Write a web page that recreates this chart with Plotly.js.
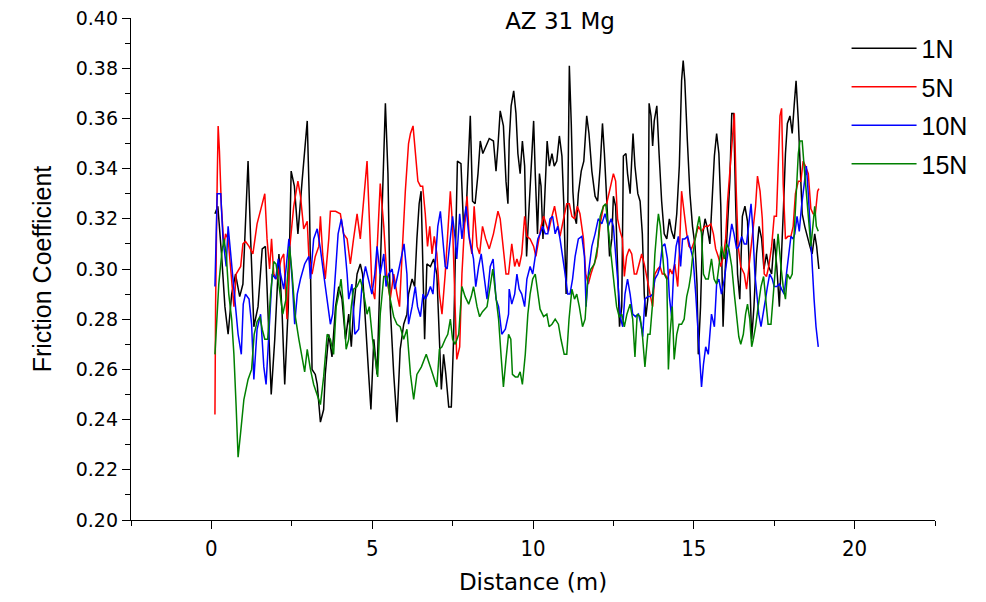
<!DOCTYPE html>
<html>
<head>
<meta charset="utf-8">
<script src="https://cdn.plot.ly/plotly-3.0.1.min.js"></script>
<style>html,body{margin:0;padding:0;background:#fff;}#chart{width:986px;height:602px;}</style>
</head>
<body>
<div id="chart"></div>
<script>
// ---- Data ----
const seriesNames = ["1N", "5N", "10N", "15N"];
const seriesColors = ["#000000", "#ff0000", "#0000ff", "#008000"];
const xTickVals = [0, 5, 10, 15, 20];
const yTickVals = [0.20, 0.22, 0.24, 0.26, 0.28, 0.30, 0.32, 0.34, 0.36, 0.38, 0.40];

const x1N = [0.11,0.20,0.32,0.42,0.52,0.63,0.75,0.88,0.98,1.06,1.14,1.22,1.32,1.45,1.58,1.68,1.75,1.86,1.97,2.10,2.20,2.28,2.39,2.48,2.58,2.69,2.82,2.98,
3.05,3.13,3.23,3.29,3.39,3.49,3.54,3.65,3.75,3.86,3.96,4.06,4.17,4.27,4.35,4.42,4.53,4.63,4.70,4.79,4.89,4.96,5.05,5.15,5.25,5.36,5.41,5.49,5.56,5.67,5.77,5.87,5.98,6.08,
6.13,6.24,6.32,6.39,6.46,6.52,6.57,6.63,6.70,6.81,6.91,7.01,7.09,7.15,7.22,7.29,7.38,7.46,7.53,7.60,7.65,7.76,7.84,7.92,7.98,8.05,8.12,8.20,8.29,8.36,8.44,8.53,8.64,8.77,8.85,8.91,8.98,9.08,9.16,9.22,
9.26,9.32,9.40,9.47,9.53,9.60,9.67,9.74,9.80,9.88,9.96,10.02,10.07,10.14,10.20,10.25,10.31,10.38,10.44,10.51,10.59,10.66,10.74,10.82,10.90,10.96,11.03,11.07,11.13,11.19,11.24,11.29,11.35,11.41,11.50,11.58,11.67,11.74,11.83,11.93,12.01,12.09,12.16,12.22,12.28,12.34,
12.38,12.45,12.50,12.57,12.63,12.69,12.76,12.81,12.89,12.94,13.02,13.07,13.11,13.17,13.26,13.33,13.40,13.46,13.51,13.57,13.61,13.67,13.72,13.77,13.85,13.92,14.00,14.08,14.16,14.24,14.31,14.39,14.47,14.55,14.62,14.67,14.72,14.80,14.88,14.96,15.04,15.10,15.14,15.21,15.27,15.35,15.41,
15.50,15.57,15.64,15.71,15.78,15.84,15.91,15.97,16.05,16.12,16.18,16.24,16.30,16.36,16.43,16.51,16.59,16.67,16.74,16.80,16.87,16.95,17.03,17.11,17.18,17.26,17.33,17.42,17.50,17.58,17.66,17.73,17.79,17.85,17.91,17.99,18.06,18.12,18.18,18.25,18.31,18.37,18.45,18.54,18.61,18.68,18.76,18.82,18.89];
const y1N = [0.322,0.325,0.305,0.285,0.274,0.290,0.298,0.289,0.294,0.317,0.343,0.312,0.277,0.285,0.308,0.309,0.285,0.250,0.272,0.306,0.282,0.254,0.285,0.339,0.333,0.314,0.335,0.359,
0.325,0.260,0.258,0.254,0.239,0.244,0.258,0.274,0.265,0.285,0.293,0.288,0.272,0.282,0.269,0.284,0.298,0.302,0.298,0.277,0.258,0.244,0.272,0.258,0.298,0.338,0.366,0.338,0.285,0.258,0.239,0.268,0.278,0.282,
0.290,0.296,0.293,0.312,0.326,0.331,0.298,0.272,0.302,0.301,0.304,0.298,0.272,0.252,0.266,0.258,0.245,0.245,0.272,0.312,0.343,0.342,0.317,0.322,0.338,0.361,0.327,0.326,0.338,0.351,0.346,0.349,0.352,0.351,0.339,0.349,0.363,0.357,0.335,0.326,
0.351,0.365,0.371,0.362,0.346,0.338,0.351,0.341,0.305,0.325,0.345,0.359,0.338,0.314,0.338,0.333,0.312,0.330,0.351,0.341,0.346,0.341,0.343,0.353,0.345,0.325,0.290,0.312,0.381,0.358,0.331,0.321,0.318,0.330,0.339,0.343,0.361,0.354,0.339,0.329,0.327,0.341,0.358,0.346,0.330,0.312,
0.305,0.312,0.329,0.325,0.298,0.277,0.285,0.345,0.346,0.338,0.330,0.347,0.354,0.341,0.330,0.327,0.314,0.290,0.281,0.288,0.366,0.361,0.349,0.359,0.365,0.346,0.327,0.314,0.312,0.320,0.315,0.312,0.322,0.341,0.375,0.383,0.375,0.351,0.330,0.317,0.309,0.294,0.266,0.285,0.313,0.320,0.317,
0.310,0.325,0.345,0.354,0.346,0.325,0.277,0.298,0.317,0.335,0.362,0.362,0.327,0.298,0.288,0.321,0.325,0.319,0.296,0.272,0.285,0.306,0.317,0.312,0.300,0.306,0.301,0.298,0.312,0.301,0.285,0.304,0.325,0.346,0.358,0.361,0.354,0.365,0.375,0.359,0.338,0.322,0.317,0.312,0.309,0.306,0.314,0.309,0.300];

const x5N = [0.11,0.13,0.18,0.21,0.25,0.31,0.39,0.44,0.52,0.62,0.70,0.77,0.91,0.98,1.06,1.17,1.29,1.42,1.56,1.66,1.73,1.81,1.87,1.94,2.04,2.17,2.25,2.35,2.44,2.56,2.69,2.77,2.87,2.98,
3.03,3.13,3.23,3.34,3.39,3.46,3.54,3.65,3.70,3.86,4.01,4.11,4.22,4.32,4.42,4.53,4.63,4.74,4.84,4.92,4.99,5.08,5.18,5.25,5.36,5.46,5.56,5.67,5.77,5.85,5.93,6.03,6.13,
6.19,6.27,6.34,6.42,6.50,6.57,6.65,6.72,6.79,6.86,6.93,7.01,7.09,7.17,7.27,7.35,7.43,7.50,7.58,7.63,7.72,7.79,7.87,7.95,8.02,8.10,8.17,8.26,8.34,8.43,8.53,8.64,8.77,8.91,8.98,9.08,9.16,9.24,
9.34,9.43,9.50,9.57,9.65,9.74,9.81,9.91,10.02,10.09,10.17,10.25,10.33,10.40,10.48,10.59,10.67,10.74,10.84,10.95,11.05,11.13,11.21,11.29,11.38,11.46,11.57,11.64,11.72,11.80,11.91,11.98,12.09,12.19,12.29,
12.43,12.50,12.57,12.63,12.71,12.78,12.84,12.91,12.99,13.07,13.15,13.22,13.30,13.38,13.46,13.54,13.64,13.72,13.79,13.88,13.95,14.02,14.10,14.19,14.26,14.33,14.41,14.50,14.55,14.62,14.70,14.78,14.85,14.93,15.04,15.14,15.24,15.35,15.45,
15.53,15.61,15.68,15.76,15.84,15.92,15.99,16.05,16.12,16.20,16.26,16.32,16.38,16.46,16.57,16.64,16.69,16.78,16.85,16.92,16.98,17.06,17.13,17.19,17.26,17.33,17.42,17.50,17.57,17.62,17.68,17.73,17.78,17.85,17.93,18.02,18.09,18.16,18.25,18.33,18.40,18.47,18.56,18.64,18.71,18.78,18.85,18.89];
const y5N = [0.242,0.285,0.335,0.357,0.347,0.325,0.309,0.314,0.312,0.298,0.285,0.298,0.301,0.310,0.311,0.309,0.306,0.318,0.325,0.330,0.312,0.300,0.312,0.298,0.296,0.304,0.306,0.280,0.309,0.325,0.335,0.329,0.316,0.319,
0.305,0.298,0.305,0.309,0.321,0.306,0.296,0.312,0.323,0.323,0.322,0.314,0.312,0.302,0.312,0.322,0.312,0.329,0.343,0.317,0.293,0.288,0.312,0.334,0.317,0.296,0.288,0.298,0.290,0.285,0.306,0.331,0.350,
0.354,0.357,0.347,0.335,0.333,0.333,0.322,0.309,0.317,0.306,0.313,0.306,0.290,0.282,0.298,0.317,0.331,0.317,0.278,0.264,0.269,0.298,0.317,0.329,0.312,0.306,0.325,0.309,0.306,0.317,0.312,0.308,0.314,0.323,0.320,0.309,0.298,0.298,
0.310,0.301,0.304,0.301,0.306,0.321,0.313,0.312,0.309,0.305,0.312,0.317,0.321,0.318,0.315,0.321,0.325,0.320,0.313,0.320,0.326,0.326,0.321,0.320,0.325,0.322,0.312,0.298,0.294,0.298,0.302,0.305,0.318,0.325,0.326,
0.335,0.338,0.335,0.320,0.315,0.312,0.297,0.305,0.308,0.306,0.298,0.298,0.302,0.306,0.302,0.296,0.290,0.285,0.298,0.300,0.301,0.298,0.298,0.296,0.300,0.298,0.302,0.293,0.306,0.331,0.322,0.314,0.309,0.308,0.312,0.317,0.315,0.317,0.317,
0.318,0.314,0.308,0.305,0.301,0.305,0.312,0.327,0.338,0.354,0.362,0.331,0.309,0.301,0.298,0.292,0.298,0.309,0.318,0.325,0.337,0.331,0.320,0.298,0.297,0.301,0.309,0.321,0.321,0.338,0.361,0.364,0.334,0.312,0.313,0.313,0.317,0.330,0.335,0.335,0.343,0.341,0.338,0.324,0.322,0.322,0.331,0.332];

const x10N = [0.11,0.18,0.29,0.36,0.46,0.52,0.60,0.68,0.75,0.83,0.93,0.99,1.06,1.17,1.25,1.32,1.42,1.53,1.63,1.70,1.79,1.89,2.00,2.08,2.15,2.25,2.32,2.41,2.51,2.59,2.67,2.77,2.90,3.03,
3.08,3.18,3.29,3.39,3.49,3.60,3.70,3.77,3.86,3.94,4.04,4.11,4.22,4.27,4.37,4.46,4.58,4.68,4.79,4.89,4.99,5.08,5.15,5.25,5.36,5.43,5.51,5.62,5.70,5.80,5.90,5.99,6.08,
6.13,6.24,6.34,6.41,6.50,6.58,6.65,6.73,6.81,6.89,6.96,7.04,7.12,7.19,7.27,7.33,7.43,7.50,7.58,7.63,7.72,7.79,7.86,7.92,8.00,8.08,8.15,8.22,8.31,8.39,8.49,8.57,8.67,8.76,8.85,8.93,9.03,9.14,9.24,
9.26,9.34,9.43,9.50,9.57,9.65,9.74,9.81,9.91,9.99,10.07,10.15,10.22,10.30,10.38,10.46,10.53,10.61,10.69,10.77,10.84,10.93,11.00,11.08,11.15,11.23,11.31,11.41,11.52,11.60,11.65,11.72,11.83,11.93,12.03,12.14,12.24,12.34,
12.43,12.50,12.57,12.65,12.73,12.79,12.86,12.94,13.02,13.10,13.19,13.28,13.36,13.41,13.48,13.57,13.65,13.72,13.79,13.88,13.95,14.02,14.10,14.18,14.24,14.31,14.37,14.45,14.52,14.59,14.65,14.72,14.81,14.88,14.98,15.06,15.12,15.19,15.24,15.30,15.37,15.45,
15.55,15.64,15.71,15.78,15.86,15.95,16.05,16.12,16.18,16.25,16.33,16.40,16.49,16.57,16.64,16.71,16.78,16.83,16.90,16.96,17.02,17.09,17.16,17.23,17.29,17.36,17.44,17.50,17.58,17.66,17.73,17.81,17.88,17.96,18.02,18.09,18.14,18.21,18.28,18.35,18.43,18.50,18.56,18.63,18.68,18.74,18.80,18.87];
const y10N = [0.293,0.330,0.330,0.312,0.301,0.317,0.306,0.296,0.285,0.274,0.266,0.286,0.290,0.288,0.278,0.256,0.276,0.282,0.261,0.254,0.276,0.298,0.296,0.304,0.298,0.292,0.300,0.312,0.296,0.278,0.290,0.296,0.302,0.305,
0.296,0.312,0.316,0.308,0.298,0.288,0.278,0.282,0.298,0.314,0.320,0.314,0.298,0.288,0.294,0.274,0.276,0.293,0.301,0.296,0.290,0.298,0.309,0.298,0.306,0.293,0.298,0.300,0.292,0.298,0.305,0.310,0.298,
0.278,0.285,0.293,0.285,0.281,0.290,0.288,0.290,0.293,0.290,0.301,0.317,0.323,0.312,0.301,0.300,0.312,0.321,0.312,0.304,0.322,0.312,0.320,0.325,0.314,0.309,0.304,0.293,0.301,0.306,0.296,0.288,0.301,0.304,0.288,0.285,0.274,0.276,0.282,
0.292,0.286,0.290,0.298,0.292,0.290,0.285,0.296,0.301,0.298,0.305,0.312,0.314,0.317,0.314,0.314,0.320,0.321,0.314,0.317,0.312,0.305,0.298,0.290,0.290,0.296,0.305,0.312,0.313,0.305,0.285,0.298,0.309,0.314,0.320,0.318,0.322,0.317,
0.320,0.317,0.306,0.290,0.280,0.277,0.290,0.296,0.290,0.282,0.281,0.282,0.278,0.273,0.288,0.289,0.289,0.290,0.296,0.298,0.301,0.309,0.310,0.304,0.289,0.281,0.298,0.309,0.313,0.301,0.312,0.312,0.313,0.309,0.304,0.290,0.277,0.264,0.253,0.262,0.269,0.266,
0.282,0.277,0.294,0.296,0.290,0.296,0.306,0.312,0.318,0.314,0.308,0.309,0.313,0.310,0.310,0.318,0.326,0.317,0.298,0.290,0.282,0.277,0.282,0.288,0.293,0.298,0.296,0.293,0.293,0.294,0.292,0.290,0.298,0.306,0.313,0.312,0.314,0.321,0.315,0.325,0.334,0.341,0.330,0.312,0.298,0.288,0.277,0.269];

const x15N = [0.11,0.16,0.23,0.32,0.39,0.46,0.54,0.63,0.70,0.77,0.83,0.91,1.01,1.14,1.25,1.33,1.42,1.51,1.58,1.66,1.75,1.84,1.94,2.01,2.10,2.22,2.32,2.43,2.51,2.61,2.72,2.82,2.90,2.98,
3.08,3.18,3.29,3.39,3.49,3.60,3.70,3.80,3.88,3.96,4.03,4.11,4.19,4.27,4.35,4.42,4.53,4.63,4.74,4.84,4.91,5.01,5.10,5.17,5.25,5.36,5.46,5.56,5.67,5.77,5.87,5.98,6.08,
6.19,6.29,6.39,6.53,6.68,6.81,6.91,7.01,7.09,7.17,7.27,7.35,7.43,7.50,7.58,7.69,7.79,7.89,8.00,8.08,8.15,8.26,8.34,8.43,8.57,8.67,8.75,8.82,8.93,9.01,9.08,9.16,9.24,
9.31,9.36,9.45,9.53,9.60,9.67,9.76,9.84,9.91,9.99,10.07,10.14,10.22,10.33,10.43,10.50,10.59,10.69,10.79,10.87,10.97,11.05,11.12,11.21,11.29,11.36,11.44,11.54,11.62,11.70,11.80,11.91,12.01,12.09,12.19,12.26,
12.37,12.45,12.53,12.60,12.68,12.76,12.84,12.92,13.02,13.10,13.17,13.24,13.33,13.40,13.48,13.57,13.64,13.71,13.79,13.86,13.90,13.96,14.02,14.08,14.16,14.21,14.26,14.33,14.39,14.47,14.54,14.62,14.70,14.78,14.85,14.91,14.97,15.04,15.11,15.17,15.24,15.30,15.37,15.45,
15.55,15.63,15.71,15.78,15.86,15.95,16.02,16.09,16.18,16.26,16.33,16.40,16.46,16.54,16.61,16.67,16.74,16.80,16.85,16.92,17.00,17.09,17.17,17.24,17.31,17.40,17.47,17.54,17.62,17.71,17.78,17.85,17.91,17.99,18.06,18.12,18.19,18.25,18.30,18.37,18.43,18.50,18.56,18.64,18.71,18.76,18.81,18.87];
const y15N = [0.266,0.277,0.294,0.306,0.312,0.306,0.290,0.280,0.266,0.245,0.225,0.235,0.248,0.256,0.260,0.274,0.279,0.281,0.276,0.272,0.272,0.290,0.303,0.302,0.294,0.282,0.288,0.309,0.298,0.281,0.272,0.265,0.259,0.268,
0.260,0.254,0.250,0.246,0.257,0.274,0.272,0.266,0.285,0.290,0.296,0.285,0.268,0.272,0.285,0.292,0.293,0.296,0.290,0.282,0.285,0.272,0.264,0.257,0.282,0.297,0.297,0.288,0.281,0.278,0.277,0.272,0.276,
0.258,0.248,0.258,0.261,0.266,0.261,0.257,0.253,0.268,0.269,0.272,0.274,0.280,0.272,0.270,0.274,0.293,0.289,0.286,0.289,0.293,0.285,0.281,0.283,0.285,0.293,0.300,0.292,0.280,0.265,0.253,0.264,0.274,
0.272,0.258,0.257,0.257,0.259,0.254,0.266,0.282,0.290,0.296,0.298,0.292,0.284,0.281,0.282,0.277,0.278,0.280,0.278,0.272,0.266,0.266,0.280,0.292,0.288,0.290,0.285,0.277,0.280,0.296,0.300,0.302,0.309,0.321,0.325,0.326,
0.312,0.301,0.293,0.285,0.281,0.282,0.277,0.282,0.286,0.280,0.265,0.282,0.281,0.274,0.261,0.274,0.274,0.285,0.306,0.317,0.322,0.317,0.306,0.298,0.296,0.260,0.274,0.285,0.264,0.274,0.278,0.278,0.280,0.289,0.293,0.298,0.306,0.312,0.317,0.321,0.314,0.298,0.296,0.296,
0.304,0.296,0.294,0.301,0.309,0.304,0.310,0.308,0.301,0.290,0.280,0.273,0.270,0.274,0.282,0.286,0.280,0.269,0.272,0.277,0.285,0.293,0.297,0.286,0.278,0.278,0.290,0.304,0.314,0.301,0.293,0.288,0.298,0.296,0.298,0.314,0.333,0.346,0.351,0.351,0.341,0.329,0.320,0.309,0.318,0.325,0.317,0.315];

const xs = [x1N, x5N, x10N, x15N];
const ys = [y1N, y5N, y10N, y15N];

const traces = seriesNames.map((name, i) => ({
  type: 'scatter',
  mode: 'lines',
  name: name,
  x: xs[i],
  y: ys[i],
  line: {color: seriesColors[i], width: 1.5},
  legendgroup: name
}));

const layout = {
  width: 986,
  height: 602,
  paper_bgcolor: '#ffffff',
  plot_bgcolor: '#ffffff',
  margin: {l: 131, r: 51, t: 18, b: 82, pad: 0},
  showlegend: true,
  title: {
    text: 'AZ 31 Mg',
    font: {family: 'DejaVu Sans, Liberation Sans, sans-serif', size: 23, color: '#000'},
    x: 0.568, xref: 'container', xanchor: 'center',
    y: 0.966, yref: 'container', yanchor: 'middle'
  },
  xaxis: {
    range: [-2.5, 22.5],
    tickvals: xTickVals,
    ticktext: xTickVals.map(String),
    ticks: 'outside', ticklen: 8, tickwidth: 1.3, tickcolor: '#000',
    minor: {dtick: 2.5, tick0: 0, ticks: 'outside', ticklen: 5, tickwidth: 1.3, tickcolor: '#000', showgrid: false},
    showline: true, linecolor: '#000', linewidth: 1.3, mirror: false,
    showgrid: false, zeroline: false,
    tickfont: {family: 'Liberation Sans Narrow, DejaVu Sans Condensed, sans-serif', size: 22, color: '#000'},
    title: {text: 'Distance (m)', standoff: 14,
      font: {family: 'DejaVu Sans, Liberation Sans, sans-serif', size: 23, color: '#000'}}
  },
  yaxis: {
    range: [0.2, 0.4],
    tickvals: yTickVals,
    tickformat: '.2f',
    ticks: 'outside', ticklen: 8, tickwidth: 1.3, tickcolor: '#000',
    minor: {dtick: 0.01, tick0: 0.2, ticks: 'outside', ticklen: 5, tickwidth: 1.3, tickcolor: '#000', showgrid: false},
    showline: true, linecolor: '#000', linewidth: 1.3, mirror: false,
    showgrid: false, zeroline: false,
    tickfont: {family: 'DejaVu Sans, Liberation Sans, sans-serif', size: 19, color: '#000'},
    title: {text: 'Friction Coefficient', standoff: 16,
      font: {family: 'Liberation Sans, Arial, sans-serif', size: 25, color: '#000'}}
  },
  legend: {
    x: 0.89, xref: 'paper', xanchor: 'left',
    y: 0.985, yref: 'paper', yanchor: 'top',
    bgcolor: 'rgba(0,0,0,0)', borderwidth: 0,
    font: {family: 'Liberation Sans, Arial, sans-serif', size: 25, color: '#000'},
    itemwidth: 65,
    tracegroupgap: 3
  }
};

Plotly.newPlot('chart', traces, layout, {displayModeBar: false, responsive: false});
</script>
</body>
</html>
